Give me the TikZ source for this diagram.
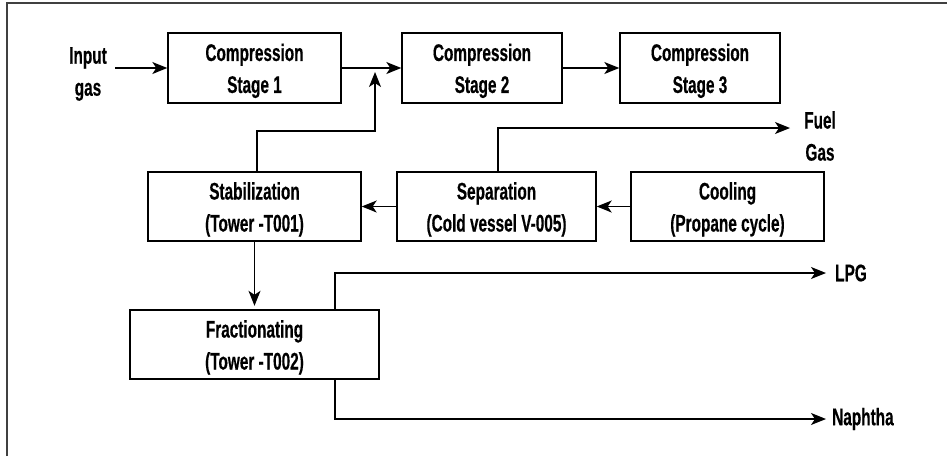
\documentclass[tikz,border=0pt]{standalone}
\usepackage{fontspec}
\setmainfont{Liberation Sans}[FakeStretch=0.64, FakeBold=0.4]
\usetikzlibrary{arrows.meta}
\newcommand\toprule{\rule{0pt}{23pt}}

\begin{document}
\begin{tikzpicture}[x=1pt,y=-1pt,
  every node/.style={font=\bfseries\fontsize{24}{32}\selectfont, align=center},
  unit/.style={draw, line width=1.4pt, inner sep=0pt, minimum height=70pt},
  lbl/.style={inner sep=0pt},
  arr/.style={line width=1.3pt, -{Stealth[length=15pt,width=12pt,inset=4pt]}}
]
\useasboundingbox (0,0) rectangle (947,456);

% frame edges
\draw[line width=2pt, black!75] (6.5,456) -- (6.5,3) -- (947,3);

% compression train
\node[unit, minimum width=173pt] (c1) at (254.5,68) {\toprule Compression\\Stage 1};
\node[unit, minimum width=160pt] (c2) at (482,68)   {\toprule Compression\\Stage 2};
\node[unit, minimum width=160pt] (c3) at (700,68)   {\toprule Compression\\Stage 3};

% cold section
\node[unit, minimum width=213pt, minimum height=69pt] (stab) at (254.5,206.5) {\toprule Stabilization\\(Tower -T001)};
\node[unit, minimum width=199pt, minimum height=69pt] (sep)  at (496.5,206.5) {\toprule Separation\\(Cold vessel V-005)};
\node[unit, minimum width=193pt, minimum height=69pt] (cool) at (727.5,206.5) {\toprule Cooling\\(Propane cycle)};

% fractionation
\node[unit, minimum width=249pt, minimum height=69pt] (frac) at (254.5,344.5) {\toprule Fractionating\\(Tower -T002)};

% stream labels
\node[lbl] (inlbl)  at (88,74)  {Input\\gas};
\node[lbl] (fuel)   at (820,136) {Fuel\\Gas};
\node[lbl, anchor=west] (lpg) at (835,273) {LPG};
\node[lbl, anchor=west] (nap) at (832,419) {Naphtha};

% free ends of the stream lines
\coordinate (inS)    at (115,68);
\coordinate (fbk)    at (375,131);
\coordinate (fbtop)  at (375,72);
\coordinate (fuelE)  at (790,128);
\coordinate (lpgE)   at (826,273);
\coordinate (napE)   at (826,419);

% connectors
\draw[arr] (inS) -- (c1.west);
\draw[arr] (c1) -- (c2);
\draw[arr] (c2) -- (c3);
\draw[arr] ([xshift=2.5pt]stab.north) |- (fbk) -- (fbtop);
\draw[arr] (cool) -- (sep);
\draw[arr] (sep) -- (stab);
\draw[arr] ([xshift=1.5pt]sep.north) |- (fuelE);
\draw[arr, shorten >=3.5pt] (stab.south) -- (frac.north);
\draw[arr] ([xshift=80.5pt]frac.north) |- (lpgE);
\draw[arr] ([xshift=80.5pt]frac.south) |- (napE);
\end{tikzpicture}
\end{document}
